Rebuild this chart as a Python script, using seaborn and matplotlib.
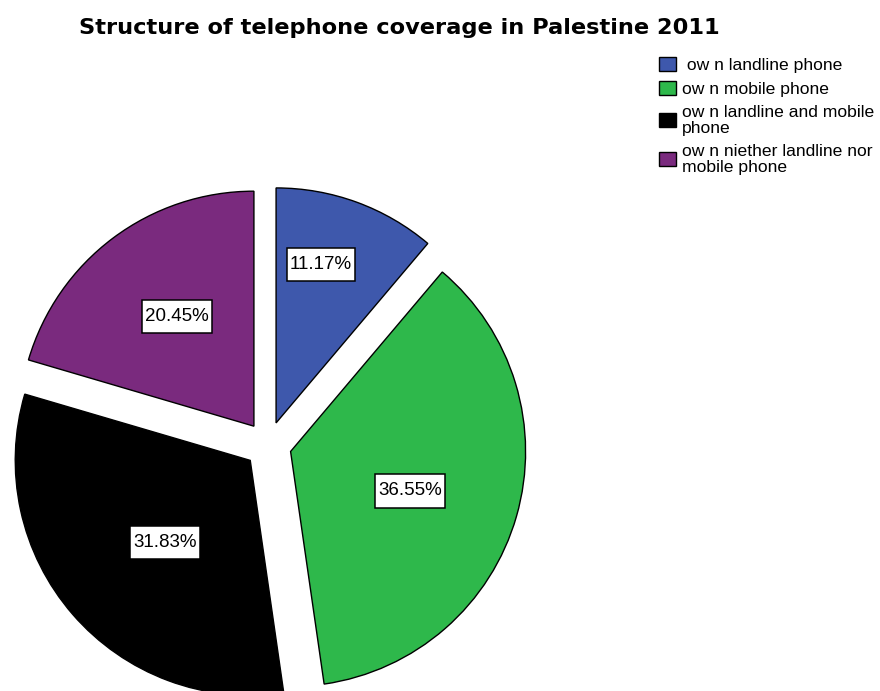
import numpy as np
import matplotlib
matplotlib.use("Agg")
import matplotlib.pyplot as plt
from matplotlib.path import Path
import seaborn as sns

# ---- data ----
categories = [" ow n landline phone", "ow n mobile phone",
              "ow n landline and mobile\nphone", "ow n niether landline nor\nmobile phone"]
percentages = [11.17, 36.55, 31.83, 20.45]
colors = ["#3E58AC", "#2EB84B", "#000000", "#7A2A7E"]
title = "Structure of telephone coverage in Palestine 2011"

# label placement (layout): distance from slice apex (in radii) and clockwise angular tweak (deg)
label_dist = [0.70, 0.535, 0.505, 0.57]
label_dang = [-4.3, 2.3, -2.9, 1.9]

sns.set_theme(style="white")
plt.rcParams["font.family"] = ["Liberation Sans", "DejaVu Sans"]
plt.rcParams["text.color"] = "black"


def label_box(x0, y0, width, height, mutation_size, padx=0.17, pady=0.44):
    px, py = padx * mutation_size, pady * mutation_size
    xa, xb = x0 - px, x0 + width + px
    ya, yb = y0 - py, y0 + height + py
    return Path([(xa, ya), (xb, ya), (xb, yb), (xa, yb), (xa, ya)], closed=True)


W, H = 880, 691
fig = plt.figure(figsize=(W / 100, H / 100), dpi=100)
ax = fig.add_axes([0, 0, 1, 1])

R = 235.0
cx, cy = 268.0, 445.0

wedges, _ = ax.pie(percentages, colors=colors, startangle=90, counterclock=False,
                   explode=[0.1] * len(percentages), radius=1.0,
                   wedgeprops=dict(edgecolor="black", linewidth=1.0))

for w, p, d, da in zip(wedges, percentages, label_dist, label_dang):
    mid = np.deg2rad((w.theta1 + w.theta2) / 2.0 - da)
    x0, y0 = w.center
    x = x0 + d * np.cos(mid)
    y = y0 + d * np.sin(mid)
    ax.text(x, y, f"{p:.2f}%", ha="center", va="center", fontsize=13.5, color="black",
            bbox=dict(boxstyle=label_box, facecolor="white", edgecolor="black",
                      linewidth=1.1))

ax.set_xlim(-cx / R, (W - cx) / R)
ax.set_ylim(-(H - cy) / R, cy / R)
ax.set_aspect("auto")
ax.axis("off")

fig.text(399 / W, 1 - 34 / H, title, ha="center", va="baseline", fontsize=16.2,
         fontweight="bold", color="black", family=["DejaVu Sans"])

leg = fig.legend(handles=wedges, labels=categories, loc="upper left",
                 bbox_to_anchor=(659 / W, 1 - 57 / H), frameon=False,
                 fontsize=12.6, handlelength=0.95, handleheight=0.85,
                 handletextpad=0.35, labelspacing=0.45, borderpad=0, borderaxespad=0,
                 labelcolor="black")
for t in leg.get_texts():
    t.set_linespacing(1.1)

fig.savefig("out.png", dpi=100)
